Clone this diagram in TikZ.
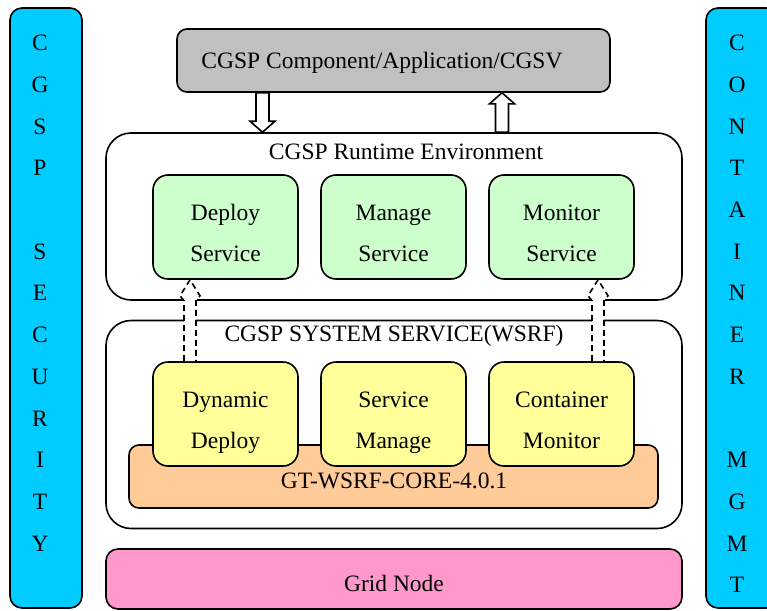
\documentclass[tikz,border=0pt]{standalone}
\usepackage{fontspec}
\setmainfont{Liberation Serif}
\usetikzlibrary{calc}

\definecolor{appgray}{RGB}{192,192,192}
\definecolor{svcgreen}{RGB}{204,255,204}
\definecolor{sysyellow}{RGB}{255,255,153}
\definecolor{coreorange}{RGB}{255,204,153}
\definecolor{gridpink}{RGB}{255,153,204}
\definecolor{sidecyan}{RGB}{0,204,255}

% solid hollow arrow pointing down: from #1 (shaft start) to #2 (tip)
\newcommand\hollowdown[2]{%
  \filldraw[hollowarrow] let \p1=(#1), \p2=(#2) in
    (\x1-6.5pt,\y1) -- (\x1-6.5pt,\y2+11pt) -- (\x1-12.5pt,\y2+11pt) -- (\x2,\y2)
    -- (\x1+12.5pt,\y2+11pt) -- (\x1+6.5pt,\y2+11pt) -- (\x1+6.5pt,\y1) -- cycle;}
% solid hollow arrow pointing up
\newcommand\hollowup[2]{%
  \filldraw[hollowarrow] let \p1=(#1), \p2=(#2) in
    (\x1-6.5pt,\y1) -- (\x1-6.5pt,\y2-11pt) -- (\x1-12.5pt,\y2-11pt) -- (\x2,\y2)
    -- (\x1+12.5pt,\y2-11pt) -- (\x1+6.5pt,\y2-11pt) -- (\x1+6.5pt,\y1) -- cycle;}
% dashed hollow arrow pointing up, open at its foot
\newcommand\dashedup[2]{%
  \fill[white] let \p1=(#1), \p2=(#2) in
    (\x1-6pt,\y1) -- (\x1-6pt,\y2-21pt) -- (\x1-10pt,\y2-16pt) -- (\x2,\y2)
    -- (\x1+10pt,\y2-16pt) -- (\x1+6pt,\y2-21pt) -- (\x1+6pt,\y1) -- cycle;
  \draw[dasharrow] let \p1=(#1), \p2=(#2) in
    (\x1-6pt,\y1) -- (\x1-6pt,\y2-21pt) -- (\x1-10pt,\y2-16pt) -- (\x2,\y2)
    -- (\x1+10pt,\y2-16pt) -- (\x1+6pt,\y2-21pt) -- (\x1+6pt,\y1);}

\begin{document}
\begin{tikzpicture}[x=1pt,y=-1pt,
  font=\fontsize{23.5}{41.7}\selectfont,
  box/.style={draw, line width=1.6pt, inner sep=0pt, align=center},
  bigbox/.style={box, fill=white, rounded corners=25pt, minimum width=576pt},
  svcbox/.style={box, rounded corners=15pt, minimum width=145pt, minimum height=104pt,
                 text height=69.4pt, text depth=0pt},
  greenbox/.style={svcbox, fill=svcgreen},
  yellowbox/.style={svcbox, fill=sysyellow},
  sidebox/.style={box, fill=sidecyan, rounded corners=12pt, minimum width=72pt, minimum height=600pt},
  sidetext/.style={inner sep=0pt, align=center, anchor=north},
  title/.style={inner sep=0pt},
  hollowarrow/.style={draw=black, fill=white, line width=1.6pt, line join=miter},
  dasharrow/.style={draw=black, line width=1.6pt, dash pattern=on 6pt off 4pt}]

\useasboundingbox (0,0) rectangle (767,610);

% side columns
\node[sidebox] (sec) at (46,308) {};
\node[sidetext] (sectext) at (40,35) {C\\G\\S\\P\\~\\S\\E\\C\\U\\R\\I\\T\\Y};
\node[sidebox] (cont) at (742,308) {};
\node[sidetext] (conttext) at (737,35) {C\\O\\N\\T\\A\\I\\N\\E\\R\\~\\M\\G\\M\\T};

% application layer
\node[box, fill=appgray, rounded corners=10pt, minimum width=433pt, minimum height=63pt]
  (app) at (393.5,60.5) {};
\node[title] (apptext) at (382,63) {CGSP Component/Application/CGSV};

% runtime environment
\node[bigbox, minimum height=167pt] (rt) at (394,216.5) {};
\node[title] (rttitle) at (406,152) {CGSP Runtime Environment};
\node[greenbox] (ds) at (225.5,227) {Deploy\\Service};
\node[greenbox] (ms) at (393.5,227) {Manage\\Service};
\node[greenbox] (mo) at (561.5,227) {Monitor\\Service};

% system services
\node[bigbox, minimum height=208pt] (sys) at (394,424.5) {};
\node[title] (systitle) at (394,336) {CGSP SYSTEM SERVICE(WSRF)};
\node[box, fill=coreorange, rounded corners=10pt, minimum width=529pt, minimum height=63pt]
  (core) at (393.5,476.5) {};
\node[title] (coretext) at (394,481) {GT-WSRF-CORE-4.0.1};
\node[yellowbox] (dd) at (225.5,414) {Dynamic\\Deploy};
\node[yellowbox] (sm) at (393.5,414) {Service\\Manage};
\node[yellowbox] (cm) at (561.5,414) {Container\\Monitor};

% grid node
\node[box, fill=gridpink, rounded corners=12pt, minimum width=576pt, minimum height=60pt]
  (grid) at (394,579) {};
\node[title] (gridtext) at (394,583) {Grid Node};

% arrows between application and runtime
\coordinate (downx) at (262.5,0);
\coordinate (upx) at (502,0);
\hollowdown{downx |- app.south}{downx |- rt.north}
\hollowup{upx |- rt.north}{upx |- app.south}

% system services feeding runtime services
\coordinate (depx) at (190,0);
\coordinate (monx) at (598,0);
\dashedup{depx |- dd.north}{depx |- ds.south}
\dashedup{monx |- cm.north}{monx |- mo.south}

\end{tikzpicture}
\end{document}
